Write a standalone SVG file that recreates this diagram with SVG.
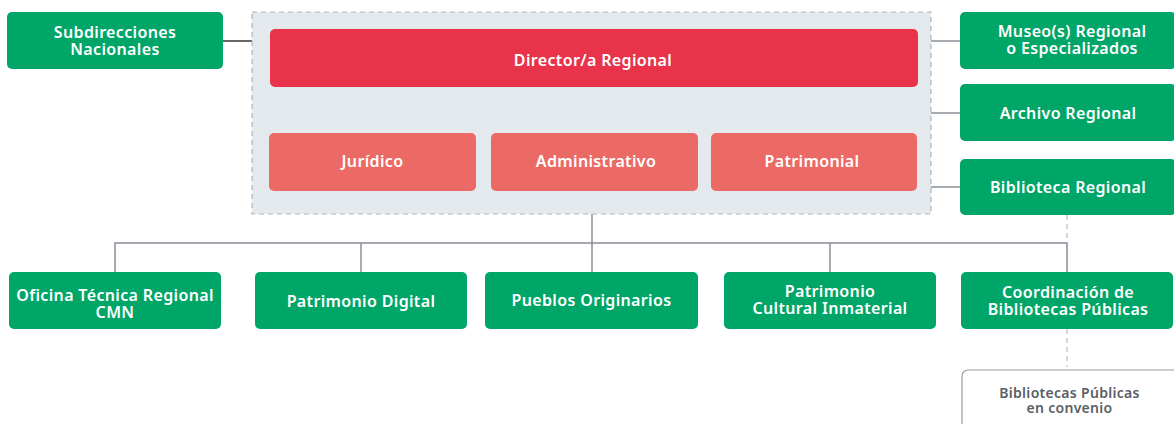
<svg xmlns="http://www.w3.org/2000/svg" width="1174" height="424" viewBox="0 0 1174 424">
<style>
.g{fill:#00A667}
.t{font-family:"Noto Sans",Lato,sans-serif;font-weight:600;font-size:16px;letter-spacing:0.35px;fill:#ffffff;text-anchor:middle}
.s{font-family:"Noto Sans",Lato,sans-serif;font-weight:600;font-size:14px;letter-spacing:0.3px;fill:#5a5f66;text-anchor:middle}
.ln{stroke:#8c8c96;stroke-width:1.5;fill:none}
.dl{stroke:#b8bcc4;stroke-width:1.2;stroke-dasharray:5 4;fill:none}
</style>
<rect width="1174" height="424" fill="#ffffff"/>
<g id="connectors">
<line x1="223" y1="41" x2="252" y2="41" stroke="#333" stroke-width="1.5"/>
<line class="ln" x1="931" y1="41" x2="960" y2="41"/>
<line class="ln" x1="931" y1="113" x2="960" y2="113"/>
<line class="ln" x1="931" y1="187" x2="960" y2="187"/>
<line class="ln" x1="592" y1="214" x2="592" y2="272"/>
<polyline class="ln" points="115,272 115,243 1067,243 1067,272"/>
<line class="ln" x1="361" y1="243" x2="361" y2="272"/>
<line class="ln" x1="830" y1="243" x2="830" y2="272"/>
<line class="dl" x1="1067" y1="215" x2="1067" y2="243"/>
<line class="dl" x1="1067" y1="329" x2="1067" y2="367"/>
</g>
<g id="regional-group">
<rect x="252" y="12" width="679" height="202" fill="#e4e9ee" stroke="#b0b4bc" stroke-width="1.2" stroke-dasharray="5 4"/>
</g>
<g id="director">
<rect x="270" y="29" width="648" height="58" rx="5" fill="#E8334A"/>
<text class="t" x="593" y="65.5">Director/a Regional</text>
</g>
<g id="juridico">
<rect x="269" y="133" width="207" height="58" rx="5" fill="#EC6A65"/>
<text class="t" x="372.5" y="167">Jurídico</text>
</g>
<g id="administrativo">
<rect x="491" y="133" width="207" height="58" rx="5" fill="#EC6A65"/>
<text class="t" x="596" y="167">Administrativo</text>
</g>
<g id="patrimonial">
<rect x="711" y="133" width="206" height="58" rx="5" fill="#EC6A65"/>
<text class="t" x="812" y="167">Patrimonial</text>
</g>
<g id="subdirecciones">
<rect x="7" y="12" width="216" height="57" rx="5" class="g"/>
<text class="t" x="115" y="37.5">Subdirecciones</text>
<text class="t" x="115" y="54.8">Nacionales</text>
</g>
<g id="museo">
<rect x="960" y="12" width="216" height="57" rx="5" class="g"/>
<text class="t" x="1072" y="36.8">Museo(s) Regional</text>
<text class="t" x="1072" y="54.3">o Especializados</text>
</g>
<g id="archivo">
<rect x="960" y="84" width="216" height="57" rx="5" class="g"/>
<text class="t" x="1068" y="119">Archivo Regional</text>
</g>
<g id="biblioteca">
<rect x="960" y="159" width="216" height="56" rx="5" class="g"/>
<text class="t" x="1068" y="193">Biblioteca Regional</text>
</g>
<g id="oficina">
<rect x="9" y="272" width="212" height="57" rx="5" class="g"/>
<text class="t" x="115" y="301">Oficina Técnica Regional</text>
<text class="t" x="115" y="318">CMN</text>
</g>
<g id="patrimonio-digital">
<rect x="255" y="272" width="212" height="57" rx="5" class="g"/>
<text class="t" x="361" y="307">Patrimonio Digital</text>
</g>
<g id="pueblos">
<rect x="485" y="272" width="213" height="57" rx="5" class="g"/>
<text class="t" x="591.5" y="306">Pueblos Originarios</text>
</g>
<g id="patrimonio-cultural">
<rect x="724" y="272" width="212" height="57" rx="5" class="g"/>
<text class="t" x="830" y="297.3">Patrimonio</text>
<text class="t" x="830" y="314.3">Cultural Inmaterial</text>
</g>
<g id="coordinacion">
<rect x="961" y="272" width="212" height="57" rx="5" class="g"/>
<text class="t" x="1068" y="298">Coordinación de</text>
<text class="t" x="1068" y="314.5">Bibliotecas Públicas</text>
</g>
<g id="bibliotecas-convenio">
<rect x="962" y="370" width="230" height="70" rx="6" fill="#ffffff" stroke="#9a9ea6" stroke-width="1.2"/>
<text class="s" x="1069.5" y="397.5">Bibliotecas Públicas</text>
<text class="s" x="1069.5" y="413">en convenio</text>
</g>
</svg>
